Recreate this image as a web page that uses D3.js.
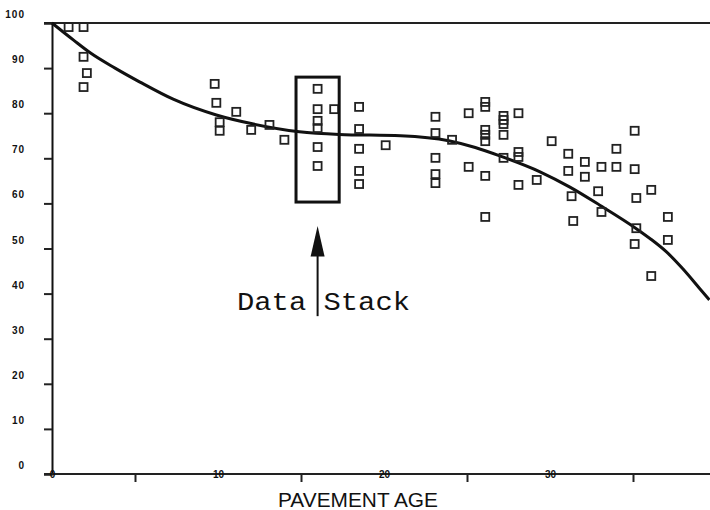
<!DOCTYPE html>
<html>
<head>
<meta charset="utf-8">
<script src="https://cdn.jsdelivr.net/npm/d3@7/dist/d3.min.js"></script>
<style>
  html, body { margin: 0; padding: 0; background: #fff; }
  svg { display: block; }
</style>
</head>
<body>
<svg id="chart" width="710" height="510"></svg>
<script>
// ---- data ----
const ages = [1.0, 1.9, 1.9, 2.1, 1.9,
  9.8, 9.9, 10.1, 10.1, 11.1, 12.0, 13.1, 14.0,
  16.0, 16.0, 16.0, 16.0, 16.0, 16.0, 17.0,
  18.5, 18.5, 18.5, 18.5, 18.5, 20.1,
  23.1, 23.1, 23.1, 23.1, 23.1, 24.1, 25.1, 25.1,
  26.1, 26.1, 26.1, 26.1, 26.1, 26.1, 26.1,
  27.2, 27.2, 27.2, 27.2, 27.2,
  28.1, 28.1, 28.1, 28.1, 29.2, 30.1,
  31.1, 31.1, 31.3, 31.4, 32.1, 32.1, 32.9, 33.1, 33.1,
  34.0, 34.0, 35.1, 35.1, 35.2, 35.2, 35.1, 36.1, 36.1, 37.1, 37.1];
const conditions = [99.1, 99.1, 92.5, 88.9, 85.8,
  86.5, 82.3, 78.0, 76.1, 80.3, 76.3, 77.4, 74.1,
  85.4, 80.9, 78.3, 76.7, 72.5, 68.3, 80.9,
  81.4, 76.5, 72.1, 67.2, 64.3, 72.9,
  79.2, 75.6, 70.1, 66.5, 64.5, 74.1, 80.0, 68.1,
  82.5, 81.4, 76.3, 75.2, 73.8, 66.1, 57.0,
  79.4, 78.5, 77.6, 75.2, 70.1,
  80.0, 71.4, 70.3, 64.1, 65.2, 73.8,
  71.0, 67.2, 61.6, 56.1, 69.2, 65.9, 62.7, 68.1, 58.1,
  72.1, 68.1, 76.1, 67.6, 61.2, 54.5, 51.0, 63.0, 43.9, 57.0, 51.9];

// fitted curve
const curveAges = [0, 1.3, 2.3, 3.8, 5.3, 7.3, 9.9, 12.0, 14.9, 17.3, 21.0, 23.9, 25.5, 27.0, 29.4, 31.2, 33.0, 35.2, 36.1, 37.0, 38.0, 39.0, 39.6];
const curveValues = [100, 96.2, 93.4, 90.0, 86.9, 83.1, 79.6, 77.7, 75.9, 75.3, 75.0, 73.9, 72.4, 70.5, 67.0, 63.6, 59.6, 54.4, 52.0, 49.3, 45.5, 41.2, 38.6];

const yTicks = [0, 10, 20, 30, 40, 50, 60, 70, 80, 90, 100];
const xMajorTicks = [0, 10, 20, 30];
const xMinorTicks = [5, 15, 25, 35];

// data stack annotation (data units)
const stackAgeRange = [14.7, 17.3];
const stackValueRange = [60.3, 88.0];
const stackAge = 16.0;

// ---- drawing ----
const svg = d3.select("#chart");
const x = d3.scaleLinear().domain([0, 40]).range([52, 716]);
const y = d3.scaleLinear().domain([0, 100]).range([474, 23]);

// top frame line (100 level)
svg.append("line")
  .attr("x1", 44).attr("x2", 710)
  .attr("y1", y(100)).attr("y2", y(100))
  .attr("stroke", "#222").attr("stroke-width", 2);

// Y axis
const yAxis = svg.append("g")
  .attr("transform", `translate(${x(0)},0)`)
  .call(d3.axisLeft(y).tickValues(yTicks).tickSize(8).tickPadding(19).tickFormat(d3.format("d")));
yAxis.select(".domain").attr("stroke", "#111").attr("stroke-width", 2);
yAxis.selectAll(".tick line").attr("stroke", "#222").attr("stroke-width", 2);
yAxis.selectAll(".tick text")
  .attr("dy", "-0.55em")
  .attr("fill", "#111")
  .style("font-family", "'Liberation Sans', Arial, sans-serif")
  .style("font-weight", "bold")
  .style("font-size", "10px")
  .style("letter-spacing", "1px");

// X axis: minor ticks
const xMinor = svg.append("g")
  .attr("transform", `translate(0,${y(0)})`)
  .call(d3.axisBottom(x).tickValues(xMinorTicks).tickSize(8).tickFormat(""));
xMinor.select(".domain").remove();
xMinor.selectAll(".tick line").attr("stroke", "#222").attr("stroke-width", 2);

// axis line
svg.append("line")
  .attr("x1", 44).attr("x2", 710)
  .attr("y1", y(0)).attr("y2", y(0))
  .attr("stroke", "#222").attr("stroke-width", 2);

// X axis: major labels drawn on the axis line
const xMajor = svg.append("g")
  .attr("transform", `translate(0,${y(0)})`)
  .call(d3.axisBottom(x).tickValues(xMajorTicks).tickSize(0).tickPadding(0).tickFormat(d3.format("d")));
xMajor.select(".domain").remove();
xMajor.selectAll(".tick text")
  .attr("y", 0)
  .attr("dy", "0.35em")
  .attr("fill", "#111")
  .style("font-family", "'Liberation Sans', Arial, sans-serif")
  .style("font-weight", "bold")
  .style("font-size", "10px");

// X axis title
svg.append("text")
  .attr("x", 278).attr("y", 507)
  .attr("textLength", 160).attr("lengthAdjust", "spacingAndGlyphs")
  .attr("fill", "#111")
  .style("font-family", "'Liberation Sans', Arial, sans-serif")
  .style("font-size", "20px")
  .text("PAVEMENT AGE");

// fitted curve
const line = d3.line()
  .x(i => x(curveAges[i]))
  .y(i => y(curveValues[i]))
  .curve(d3.curveMonotoneX);
svg.append("path")
  .attr("d", line(d3.range(curveAges.length)))
  .attr("fill", "none")
  .attr("stroke", "#111")
  .attr("stroke-width", 3);

// data points (open squares)
const s = 8;
svg.append("g").selectAll("rect")
  .data(d3.range(ages.length))
  .join("rect")
  .attr("x", i => x(ages[i]) - s / 2)
  .attr("y", i => y(conditions[i]) - s / 2)
  .attr("width", s).attr("height", s)
  .attr("fill", "none")
  .attr("stroke", "#222")
  .attr("stroke-width", 1.8);

// data stack box
svg.append("rect")
  .attr("x", x(stackAgeRange[0]))
  .attr("y", y(stackValueRange[1]))
  .attr("width", x(stackAgeRange[1]) - x(stackAgeRange[0]))
  .attr("height", y(stackValueRange[0]) - y(stackValueRange[1]))
  .attr("fill", "none")
  .attr("stroke", "#111")
  .attr("stroke-width", 3);

// arrow
const ax = x(stackAge);
svg.append("line")
  .attr("x1", ax).attr("x2", ax)
  .attr("y1", y(35)).attr("y2", y(48.5))
  .attr("stroke", "#111").attr("stroke-width", 2);
svg.append("path")
  .attr("d", `M${ax},${y(55)} L${ax - 7},${y(48.2)} L${ax + 7},${y(48.2)} Z`)
  .attr("fill", "#111");

// annotation text
svg.append("text")
  .attr("x", 237).attr("y", 310)
  .attr("textLength", 173).attr("lengthAdjust", "spacingAndGlyphs")
  .attr("fill", "#111")
  .style("font-family", "'Liberation Mono', 'Courier New', monospace")
  .style("font-size", "25px")
  .text("Data Stack");
</script>
</body>
</html>
